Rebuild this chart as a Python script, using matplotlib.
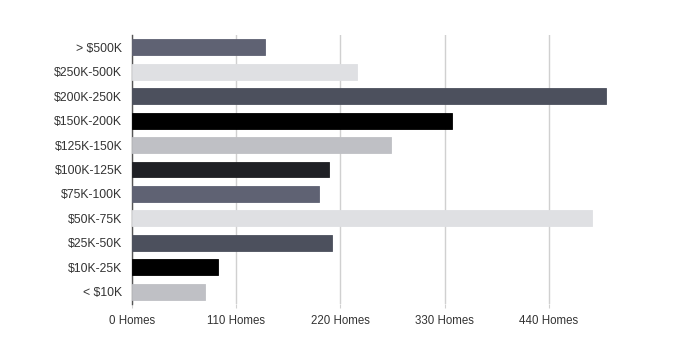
import matplotlib
matplotlib.use("Agg")
import matplotlib.pyplot as plt

categories = ["> $500K", "$250K-500K", "$200K-250K", "$150K-200K", "$125K-150K",
              "$100K-125K", "$75K-100K", "$50K-75K", "$25K-50K", "$10K-25K", "< $10K"]
values = [140, 238, 500, 338, 273, 208, 197, 486, 211, 91, 77]
colors = ["#5f6273", "#dfe0e3", "#4c505d", "#000000", "#bfc0c5", "#1f2025",
          "#5f6273", "#dfe0e3", "#4c505d", "#000000", "#bfc0c5"]
xticks = [0, 110, 220, 330, 440]
xticklabels = ["0 Homes", "110 Homes", "220 Homes", "330 Homes", "440 Homes"]

plt.rcParams['font.family'] = ['Liberation Sans', 'DejaVu Sans']

fig = plt.figure(figsize=(6.82, 3.51), dpi=100)
ax = fig.add_axes([132/682, 47/351, (660-132)/682, (316-47)/351])

ypos = list(range(len(categories)))
ax.barh(ypos, values, height=0.65, color=colors, edgecolor=colors, linewidth=0.6, zorder=3)
ax.set_ylim(len(categories) - 0.5, -0.5)
ax.set_xlim(0, (660-132)/0.947)

ax.set_yticks(ypos)
ax.set_yticklabels(categories, fontsize=8.8, color="#333333")
ax.set_xticks(xticks)
ax.set_xticklabels(xticklabels, fontsize=8.3, color="#333333")

ax.grid(axis='x', color="#d0d0d0", linewidth=1, zorder=0)
ax.tick_params(axis='y', length=0, pad=7)
ax.tick_params(axis='x', length=3, color="#d0d0d0", pad=5)
for s in ["top", "right", "bottom"]:
    ax.spines[s].set_visible(False)
ax.spines["left"].set_color("#555555")
ax.spines["left"].set_linewidth(1)

fig.savefig("out.png", dpi=100)
